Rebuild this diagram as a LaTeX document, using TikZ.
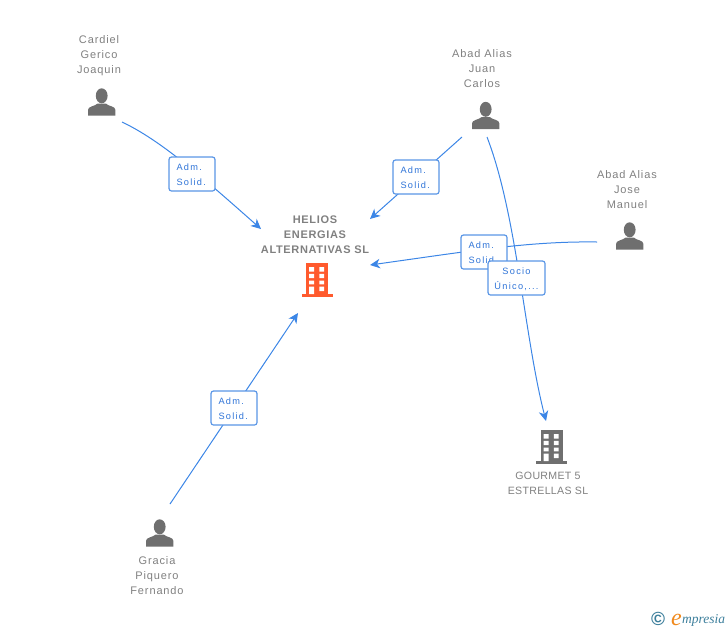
\documentclass[tikz,border=0pt]{standalone}
\usepackage{fontspec}
\setmainfont{Liberation Sans}[LetterSpace=8]
\newfontfamily\logofont{Liberation Serif}[Ligatures=NoCommon]
\newfontfamily\narrowfont{Liberation Sans}[LetterSpace=3]
\newfontfamily\boxfont{Liberation Sans}[LetterSpace=14]
\newfontfamily\boldfont{Liberation Sans Bold}[LetterSpace=6]
\usetikzlibrary{arrows.meta}
\definecolor{linkblue}{HTML}{3C86E6}
\definecolor{boxblue}{HTML}{5A96E6}
\definecolor{txtblue}{HTML}{2F74D8}
\definecolor{txtgray}{HTML}{808080}
\definecolor{icongray}{HTML}{6F6F6F}
\definecolor{hotred}{HTML}{FF5A2D}
\definecolor{logoblue}{HTML}{3D7F9C}
\definecolor{logoorange}{HTML}{F08A1E}
\newcommand{\boxtop}{\rule{0pt}{9pt}}
\tikzset{
  x=1pt,y=-1pt,
  link/.style={draw=linkblue,line width=1pt},
  arrowlink/.style={link,-{Stealth[length=10pt,width=9.5pt,inset=3pt]}},
  rolebox/.style={draw=boxblue,line width=1.2pt,fill=white,rounded corners=2.5pt,
    minimum width=46pt,minimum height=34pt,inner sep=0pt,align=left,text width=31pt,
    text=txtblue,font=\boxfont\fontsize{9.2}{15}\selectfont},
  namelabel/.style={align=center,text=txtgray,inner sep=0pt,font=\fontsize{11}{15}\selectfont},
  firmlabel/.style={align=center,text=txtgray,inner sep=0pt,font=\narrowfont\fontsize{10.6}{15}\selectfont},
  boldlabel/.style={align=center,text=txtgray,inner sep=0pt,font=\boldfont\fontsize{11}{15}\selectfont},
  pics/person/.style={code={
    \fill[icongray] (0,-6.2) circle[x radius=5.9,y radius=7.5];
    \fill[icongray] (-13.7,13.7) -- (-13.7,8) .. controls (-13.7,4) and (-7,4.5) .. (-4,1.5) -- (4,1.5) .. controls (7,4.5) and (13.7,4) .. (13.7,8) -- (13.7,13.7) -- cycle;
  }},
  pics/tower/.style={code={
    \fill[#1] (-11,-17) rectangle (11,14);
    \fill[#1] (-15.5,14) rectangle (15.5,16.5);
    \fill[white]
      (-7.8,-13) rectangle (-3,-8.3) (2.3,-13) rectangle (7.2,-8.3)
      (-7.8,-6.2) rectangle (-3,-2) (2.3,-6.2) rectangle (7.2,-2)
      (-7.8,0.5) rectangle (-3,4.3) (2.3,0.5) rectangle (7.2,4.3)
      (-7.8,6.7) rectangle (-3,14) (2.3,6.7) rectangle (7.2,11);
  }},
}
\begin{document}
\begin{tikzpicture}
\useasboundingbox (0,0) rectangle (728,630);
% free connector ends
\coordinate (c1a) at (122,122);
\coordinate (c1b) at (261,229);
\coordinate (c2a) at (462,137);
\coordinate (c2b) at (370,219);
\coordinate (c3a) at (597,242);
\coordinate (c3b) at (370,265);
\coordinate (c4a) at (487,137);
\coordinate (c4b) at (546,421);
\coordinate (c5a) at (170,504);
\coordinate (c5b) at (298,313);
% connectors
\draw[arrowlink] (c1a) .. controls (160,140) and (200,175) .. (c1b);
\draw[arrowlink] (c2a) -- (c2b);
\draw[arrowlink] (c3a) .. controls (530,241) and (470,251) .. (c3b);
\draw[arrowlink] (c4a) .. controls (517,215) and (524,335) .. (c4b);
\draw[arrowlink] (c5a) -- (c5b);
% role boxes
\node[rolebox] (r1) at (192,174) {\boxtop Adm.\\Solid.};
\node[rolebox] (r2) at (416,177) {\boxtop Adm.\\Solid.};
\node[rolebox] (r3) at (484,252) {\boxtop Adm.\\Solid.};
\node[rolebox,minimum width=57pt,text width=50pt,align=center] (r4) at (516.5,278) {\boxtop Socio\\Único,...};
\node[rolebox] (r5) at (234,408) {\boxtop Adm.\\Solid.};
% people
\pic at (101.7,102) {person};
\node[namelabel] (n1) at (99,55.7) {Cardiel\\Gerico\\Joaquin};
\pic at (485.7,115.5) {person};
\node[namelabel] (n2) at (482,68.3) {Abad Alias\\Juan\\Carlos};
\pic at (629.7,236) {person};
\node[namelabel] (n3) at (627,189.5) {Abad Alias\\Jose\\Manuel};
\pic at (159.7,533) {person};
\node[namelabel] (n4) at (157,575.3) {Gracia\\Piquero\\Fernando};
% companies
\pic at (317,280) {tower=hotred};
\node[boldlabel] (n5) at (315,234.5) {HELIOS\\ENERGIAS\\ALTERNATIVAS SL};
\pic at (551.5,447) {tower=icongray};
\node[firmlabel] (n6) at (548,483.5) {GOURMET 5\\ESTRELLAS SL};
% logo
\node[inner sep=0pt,text=logoblue,font=\boldfont\fontsize{19}{19}\selectfont] (lc) at (658,619) {©};
\node[inner sep=0pt,anchor=base west,text=logoorange,font=\logofont\itshape\fontsize{24}{24}\selectfont] (le) at (671,625) {e};
\node[inner sep=0pt,anchor=base west,text=logoblue,font=\logofont\itshape\fontsize{13.5}{13.5}\selectfont] (lm) at (682,623) {mpresia};
\end{tikzpicture}
\end{document}
